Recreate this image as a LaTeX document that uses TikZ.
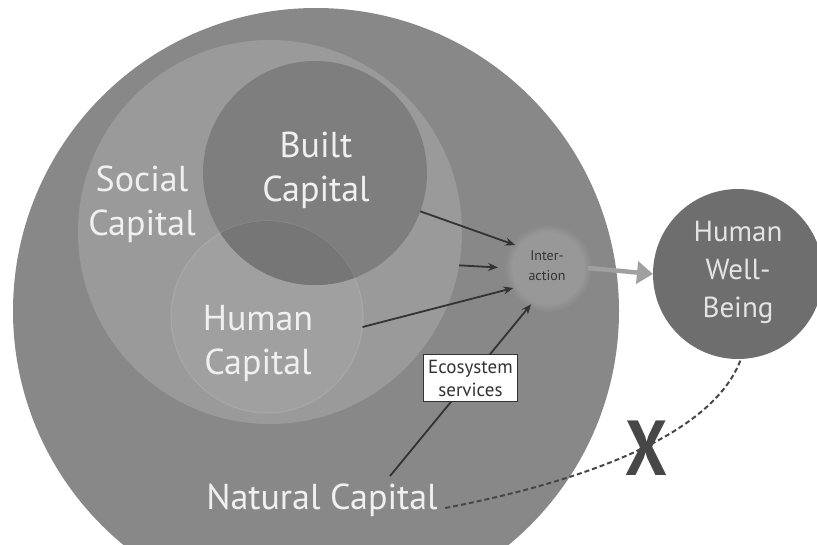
\documentclass[tikz,border=0pt]{standalone}
\usepackage{fontspec}
\setmainfont{PT Sans}
\usepackage{xcolor}
\usepackage{tikz}
\usetikzlibrary{arrows.meta, positioning, calc, fadings}
\definecolor{naturalgray}{HTML}{888888}
\definecolor{socialgray}{HTML}{9A9A9A}
\definecolor{builtgray}{HTML}{7E7E7E}
\definecolor{humangray}{HTML}{A0A0A0}
\definecolor{overlapgray}{HTML}{767676}
\definecolor{wellgray}{HTML}{6E6E6E}
\definecolor{labelwhite}{HTML}{F0F0F0}
\definecolor{arrowdark}{HTML}{333333}
\definecolor{flowgray}{HTML}{A0A0A0}

\begin{document}
\begin{tikzpicture}[x=1pt, y=-1pt,
  capcircle/.style={circle, inner sep=0pt, outer sep=0pt},
  caplabel/.style={text=labelwhite, align=center, font=\fontsize{36}{44}\selectfont},
  feed/.style={draw=arrowdark, line width=1.8pt, -{Stealth[length=10pt,width=8pt]}}]

  \useasboundingbox (0,0) rectangle (817,544);
  \clip (0,0) rectangle (817,544);

  % Nested capital circles
  \foreach \name/\x/\y/\r/\col in {natural/316/311/303/naturalgray, social/270/232/192/socialgray, human/267/317/96/humangray, built/315/173/112/builtgray, wellbeing/738/274/85/wellgray} {
    \node[capcircle, fill=\col, minimum size=2*\r pt] (\name) at (\x,\y) {};
  }
  \draw[labelwhite, opacity=0.12, line width=1.2pt] (human) circle (96);

  % Built / human overlap
  \begin{scope}
    \clip (human) circle (96);
    \fill[overlapgray] (built) circle (112);
  \end{scope}

  % Interaction haze
  \fill[labelwhite, opacity=0.16, path fading=circle with fuzzy edge 20 percent] (548,268) circle (44);
  \node[capcircle, minimum size=80pt] (inter) at (548,268) {};
  \node[text=arrowdark, align=center, font=\fontsize{14}{20}\selectfont] (intertext) at (547,266) {Inter-\\action};

  % Labels
  \node[caplabel] (sociallabel) at (142,204) {Social\\Capital};
  \node[caplabel] (builtlabel) at (316,170) {Built\\Capital};
  \node[caplabel] (humanlabel) at (258,343) {Human\\Capital};
  \node[caplabel] (natlabel) at (322,500) {Natural Capital};
  \node[text=labelwhite!95!black, align=center, font=\fontsize{29}{38}\selectfont] (welllabel) at (738,272) {Human\\Well-\\Being};

  % Flows into the interaction
  \draw[feed] (built.-20) -- (inter.145);
  \draw[feed, shorten >=10pt] (social.-10) -- (inter.west);
  \draw[feed] (human.-6) -- (inter.-150);
  \draw[feed] ([xshift=68pt, yshift=4pt]natlabel.north) -- (inter.-115)
    node[pos=0.57, draw=arrowdark, fill=white, line width=0.8pt, inner xsep=5pt, inner ysep=5pt, text=arrowdark, align=center, font=\fontsize{19}{23}\selectfont] (ecobox) {Ecosystem\\services};

  % Towards well-being
  \draw[flowgray, line width=4.5pt, -{Triangle[length=16pt,width=22pt]}] (inter.east) -- (wellbeing.west);

  % Broken link back to natural capital
  \draw[arrowdark!90, line width=2pt, dash pattern=on 5pt off 3pt] ([xshift=4pt, yshift=-8pt]natlabel.east) .. controls (600,478) and (715,430) .. (wellbeing.-88);
  \node[text=arrowdark!90, font=\fontsize{78}{78}\selectfont\bfseries, xscale=0.85] (cross) at (646,448) {X};
\end{tikzpicture}
\end{document}
